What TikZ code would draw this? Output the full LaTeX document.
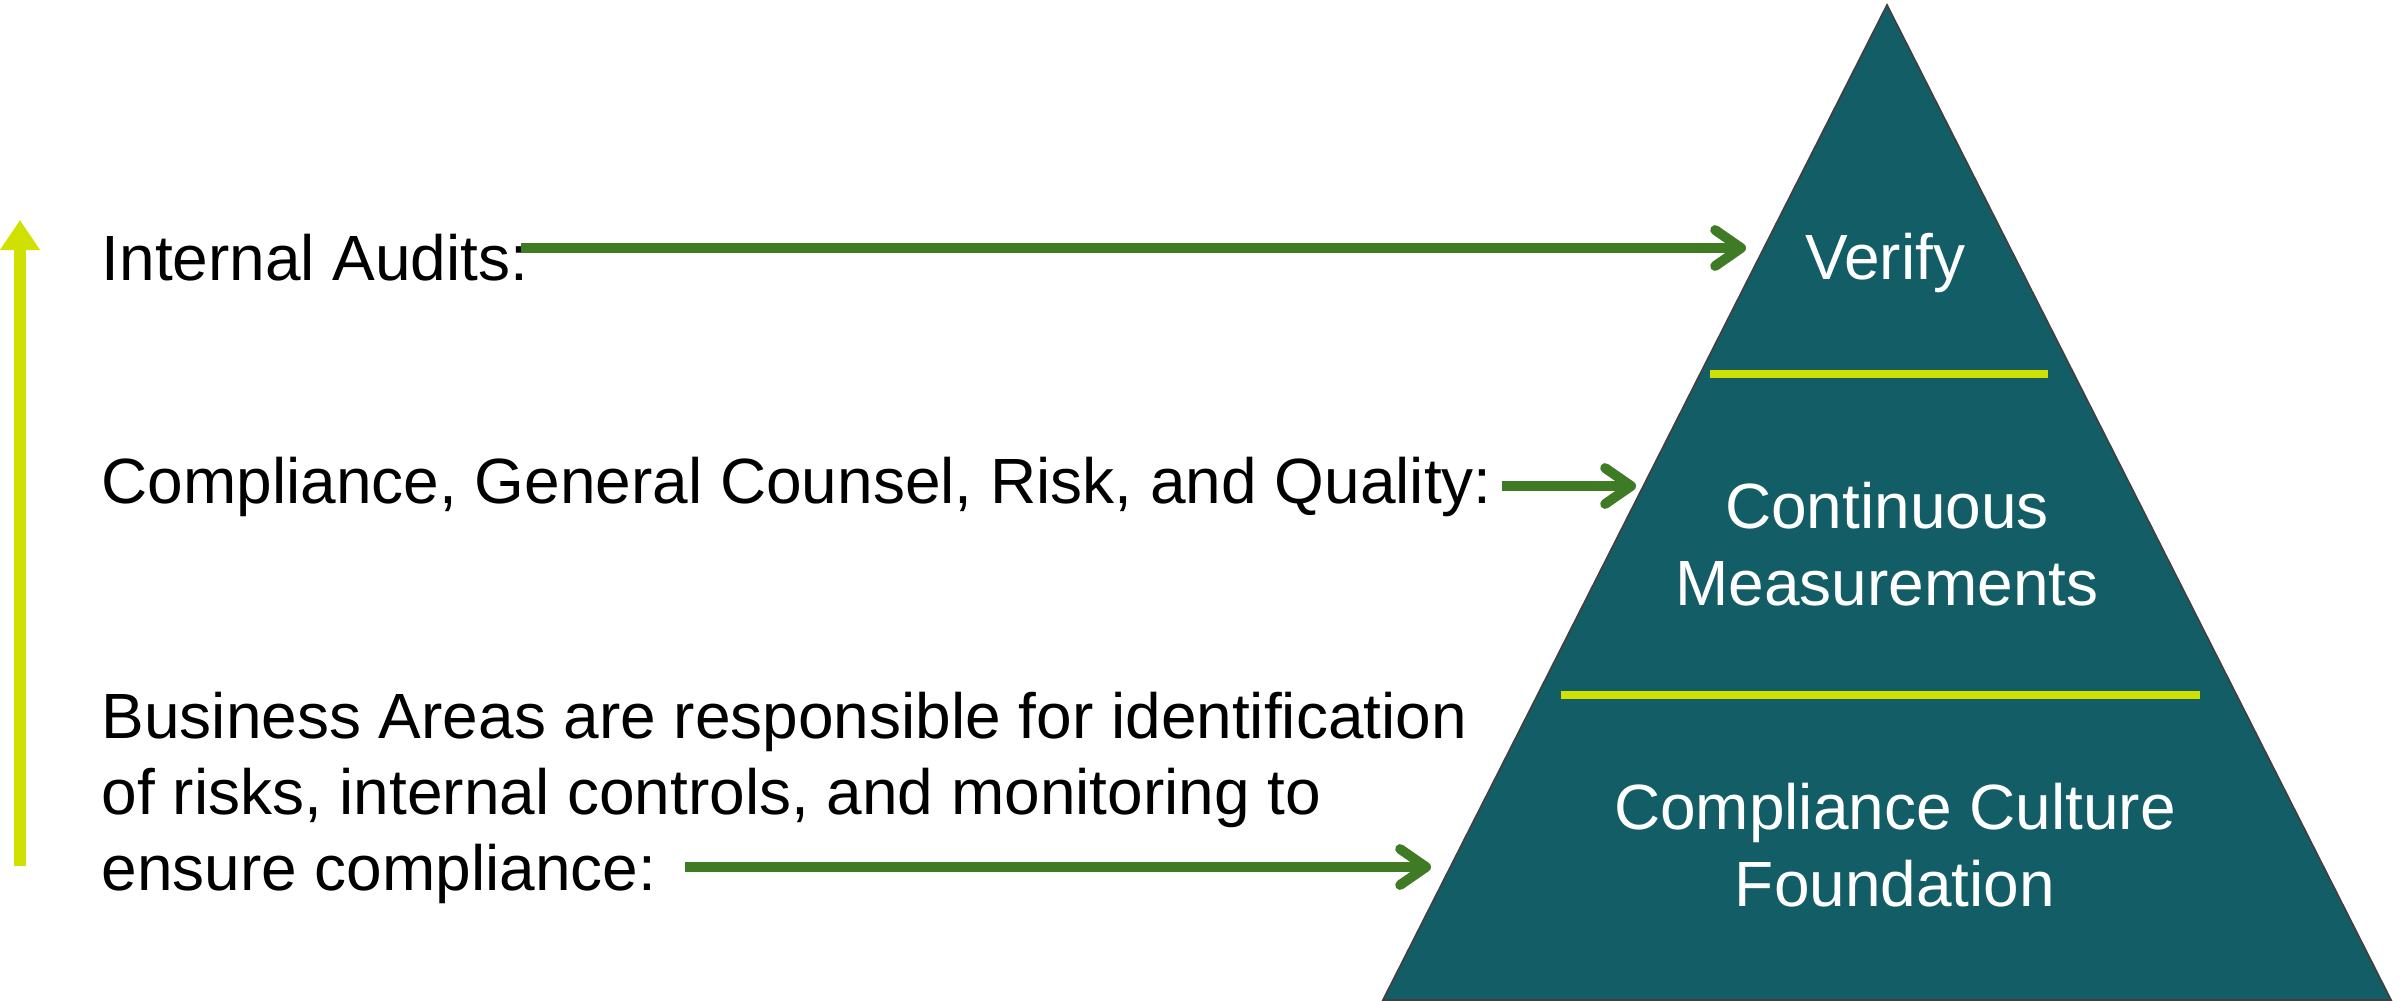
\documentclass[tikz,border=0pt]{standalone}
\usepackage{fontspec}
\setmainfont{Liberation Sans}
\usepackage{xcolor}
\usetikzlibrary{arrows.meta, positioning}
\definecolor{tierteal}{HTML}{135E66}
\definecolor{limeline}{HTML}{D0E000}
\definecolor{arrowgreen}{HTML}{3F7A24}
\tikzset{
  lefttext/.style={anchor=west, inner sep=0pt, align=left, text=black,
    font=\fontsize{18.2}{21.7}\selectfont},
  tiertext/.style={inner sep=0pt, align=center, text=white,
    font=\fontsize{18.2}{21.7}\selectfont},
  feed/.style={arrowgreen, line width=2.8pt,
    -{Straight Barb[length=2.6mm, width=3.6mm, line cap=round, line join=round]}},
  divider/.style={limeline, line width=2.3pt}
}

\begin{document}
\begin{tikzpicture}[x=0.1mm, y=-0.1mm]
  \useasboundingbox (0,0) rectangle (2402,1000);
  % pyramid
  \filldraw[fill=tierteal, draw=black!75, line width=0.5pt] (1887,5) -- (1383,1000) -- (2391,1000) -- cycle;
  \draw[divider] (1710,374) -- (2048,374);
  \draw[divider] (1561,695) -- (2200,695);
  \node[tiertext] (verify) at (1885,263) {Verify};
  \node[tiertext] (measure) at (1887,544) {Continuous\\Measurements};
  \node[tiertext] (culture) at (1895,845) {Compliance Culture\\Foundation};

  % left side
  \draw[limeline, line width=3.3pt, -{Triangle[length=3mm, width=3.8mm]}] (20,866) -- (20,220);
  \node[lefttext] (audits) at (101,258) {Internal Audits:};
  \node[lefttext] (counsel) at (101,487) {Compliance, General Counsel, Risk, and Quality:};
  \node[lefttext, anchor=north west] (business) at (101,691) {Business Areas are responsible for identification\\of risks, internal controls, and monitoring to\\ensure compliance:};

  \coordinate (auditstart) at (521,248);
  \coordinate (auditend) at (1746,248);
  \coordinate (counselend) at (1636,486);
  \coordinate (busstart) at (685,867);
  \coordinate (busend) at (1431,867);
  \draw[feed] (auditstart) -- (auditend);
  \draw[feed] ([xshift=0.9mm]counsel.east |- counselend) -- (counselend);
  \draw[feed] (busstart) -- (busend);
\end{tikzpicture}
\end{document}
